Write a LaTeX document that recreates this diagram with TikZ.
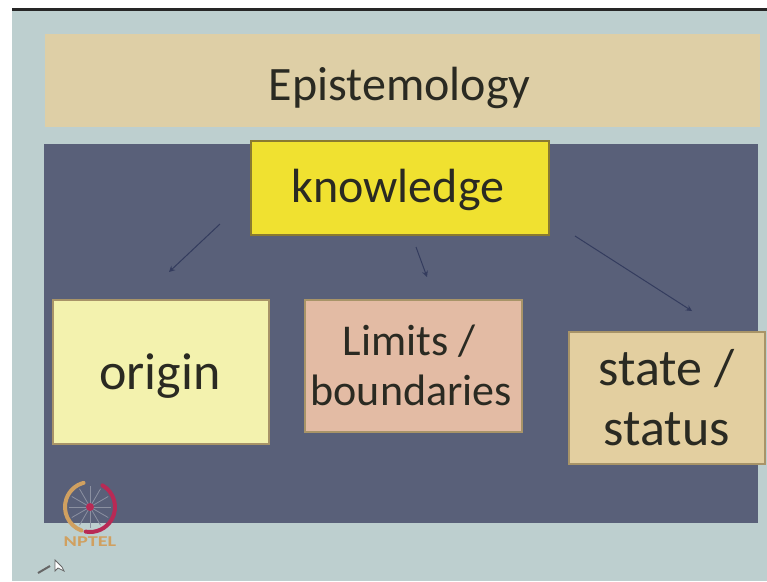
\documentclass[tikz,border=0pt]{standalone}
\usepackage{fontspec}
\setmainfont{Carlito}
\usetikzlibrary{arrows.meta}
\definecolor{slidebg}{HTML}{BDCFCF}
\definecolor{sand}{HTML}{DECFA6}
\definecolor{panel}{HTML}{596079}
\definecolor{yel}{HTML}{F0E130}
\definecolor{yeledge}{HTML}{8A7A30}
\definecolor{pale}{HTML}{F3F2AE}
\definecolor{pink}{HTML}{E3BBA4}
\definecolor{tan}{HTML}{E3CFA0}
\definecolor{boxedge}{HTML}{A89468}
\definecolor{ink}{HTML}{2A2A22}
\definecolor{arrowc}{HTML}{343C5E}
\definecolor{logoO}{HTML}{D0A060}
\definecolor{logoR}{HTML}{B82A55}
\tikzset{
  card/.style={draw=boxedge,line width=1.5pt,inner sep=0pt,align=center,text=ink,anchor=north west},
  link/.style={draw=arrowc,line width=1pt,-{Stealth[length=6pt,width=6pt]}},
}
\begin{document}
\begin{tikzpicture}[x=1pt,y=-1pt]
\useasboundingbox (0,0) rectangle (767,581);
\fill[white] (0,0) rectangle (767,581);
\fill[slidebg] (12,8) rectangle (767,581);
\fill[black!85] (12,8) rectangle (767,11);
\node[fill=sand,minimum width=715pt,minimum height=93pt,inner sep=0pt,anchor=north west,text=ink,text height=39pt,text depth=0pt,font=\fontsize{48}{54}\selectfont] (title) at (45,34) {\hspace*{-6pt}Epistemology};
\fill[panel] (44,144) rectangle (758,523);
\node[card,fill=yel,draw=yeledge,minimum width=298pt,minimum height=94pt,text height=30pt,text depth=0pt,font=\fontsize{48}{54}\selectfont] (know) at (250,140) {\hspace*{-4pt}knowledge};
\node[card,fill=pale,minimum width=216pt,minimum height=144pt,text height=36pt,text depth=0pt,font=\fontsize{52}{60}\selectfont] (origin) at (52,299) {\hspace*{-2pt}origin};
\node[card,fill=pink,minimum width=217pt,minimum height=132pt,font=\fontsize{44}{50}\selectfont] (limits) at (304,299) {\hspace*{-8pt}Limits /\\\hspace*{-4pt}boundaries};
\node[card,fill=tan,minimum width=196pt,minimum height=132pt,font=\fontsize{52}{60}\selectfont] (state) at (568,331) {state /\\status};
\coordinate (a1) at (220,224);
\coordinate (a2) at (169,272);
\coordinate (b1) at (416,247);
\coordinate (b2) at (427,277);
\coordinate (c1) at (575,236);
\coordinate (c2) at (692,311);
\draw[link] (a1) -- (a2);
\draw[link] (b1) -- (b2);
\draw[link] (c1) -- (c2);
% NPTEL logo
\coordinate (hub) at (90,507);
\foreach \a in {0,30,...,330}
  \draw[white!30!panel,line width=.8pt] (hub) -- ++(\a:21);
\fill[logoR] (hub) circle (4);
\draw[logoO,line width=4pt,line cap=round] ([shift={(110:25)}]hub) arc[start angle=110,end angle=255,radius=25];
\draw[logoR,line width=4pt,line cap=round] ([shift={(-60:25)}]hub) arc[start angle=-60,end angle=100,radius=25];
\node[font=\bfseries\fontsize{15}{15}\selectfont,text=logoO,inner sep=0pt,xscale=1.35] (nptel) at (90,542) {NPTEL};
% pen and pointer
\draw[black!60,line width=2pt] (38,573) -- (50,566);
\draw[black!60,fill=white,line width=.8pt] (55,560) -- (55,571) -- (58,568) -- (64,571) -- (62,567) -- cycle;
\end{tikzpicture}
\end{document}
